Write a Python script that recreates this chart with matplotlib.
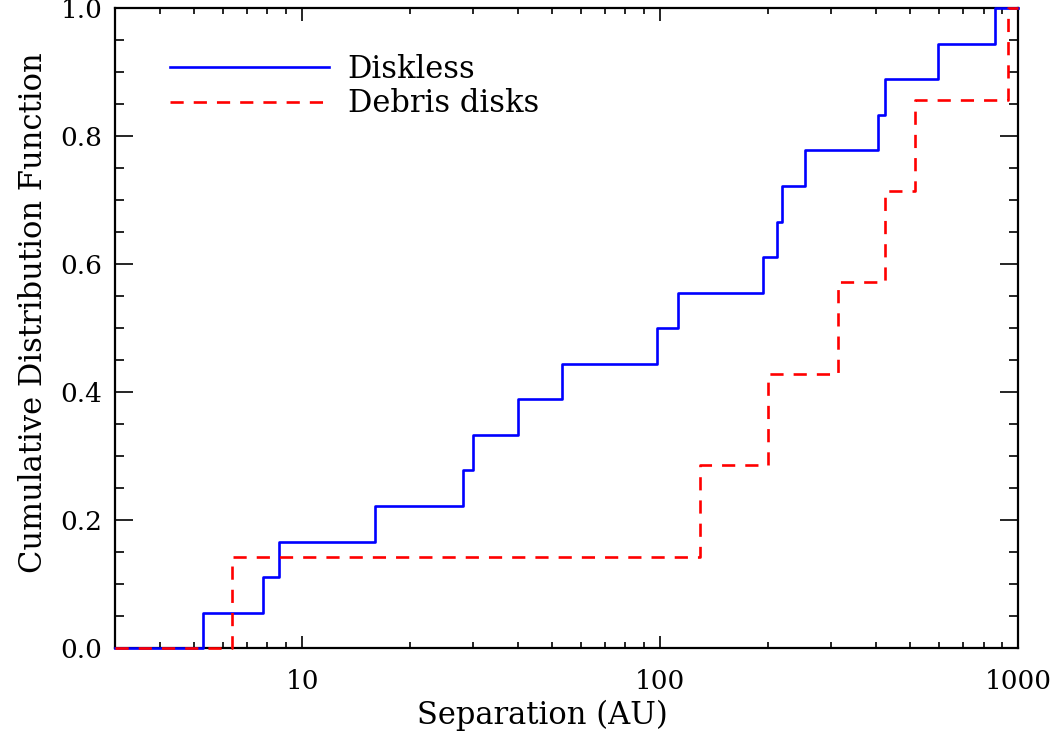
import numpy as np
import matplotlib.pyplot as plt
from matplotlib.ticker import FixedLocator, NullFormatter, LogLocator

# projected separations (AU) of the companions in each sample
diskless_sep = [5.3, 7.8, 8.6, 16.0, 28.2, 30.0, 40.1, 53.2, 98.0, 112.0,
                194.0, 212.0, 219.0, 253.0, 406.0, 425.0, 598.0, 863.0]
debris_sep = [6.35, 129.0, 200.0, 314.0, 425.0, 515.0, 937.0]

x_min, x_max = 3.0, 1000.0
xtick_vals = [10, 100, 1000]
xtick_labels = ["10", "100", "1000"]
ytick_vals = [0.0, 0.2, 0.4, 0.6, 0.8, 1.0]


def cdf_steps(sep):
    sep = np.sort(np.asarray(sep))
    n = len(sep)
    xs = np.concatenate([[x_min], sep, [x_max]])
    ys = np.concatenate([[0.0], np.arange(1, n + 1) / n, [1.0]])
    return xs, ys


plt.rcParams['font.family'] = ['DejaVu Serif']

fig = plt.figure(figsize=(10.64, 7.40), dpi=100)
ax = fig.add_axes([0.108, 0.124, 0.849, 0.865])

xs, ys = cdf_steps(diskless_sep)
ax.step(xs, ys, where='post', color='#0000ff', lw=1.9, label='Diskless',
        zorder=3, clip_on=False)
xs, ys = cdf_steps(debris_sep)
ax.step(xs, ys, where='post', color='#ff0000', lw=1.9, dashes=(5, 3.8),
        label='Debris disks', zorder=3, clip_on=False)

ax.set_xscale('log')
ax.set_xlim(x_min, x_max)
ax.set_ylim(0, 1.0)

ax.xaxis.set_major_locator(FixedLocator(xtick_vals))
ax.set_xticklabels(xtick_labels)
ax.xaxis.set_minor_locator(LogLocator(base=10, subs=np.arange(2, 10)))
ax.xaxis.set_minor_formatter(NullFormatter())
ax.set_yticks(ytick_vals)
ax.set_yticklabels([f"{v:.1f}" for v in ytick_vals])
ax.yaxis.set_minor_locator(FixedLocator(np.arange(0, 1.001, 0.05)))

ax.tick_params(axis='both', which='both', direction='in', top=True,
               right=True, width=1.2, labelsize=19, color='black')
ax.tick_params(axis='x', which='major', length=9, pad=15)
ax.tick_params(axis='x', which='minor', length=4.5)
ax.tick_params(axis='y', which='major', length=13, pad=9)
ax.tick_params(axis='y', which='minor', length=6.5)
for sp in ax.spines.values():
    sp.set_linewidth(1.6)

ax.set_xlabel("Separation (AU)", fontsize=22, x=0.473, labelpad=4)
ax.set_ylabel("Cumulative Distribution Function", fontsize=22, y=0.525,
              labelpad=8)

ax.legend(loc='upper left', bbox_to_anchor=(0.044, 0.952), frameon=False,
          fontsize=22, handlelength=5.2, handletextpad=0.62, labelspacing=0.1,
          borderpad=0)

fig.savefig("out.png", dpi=100)
